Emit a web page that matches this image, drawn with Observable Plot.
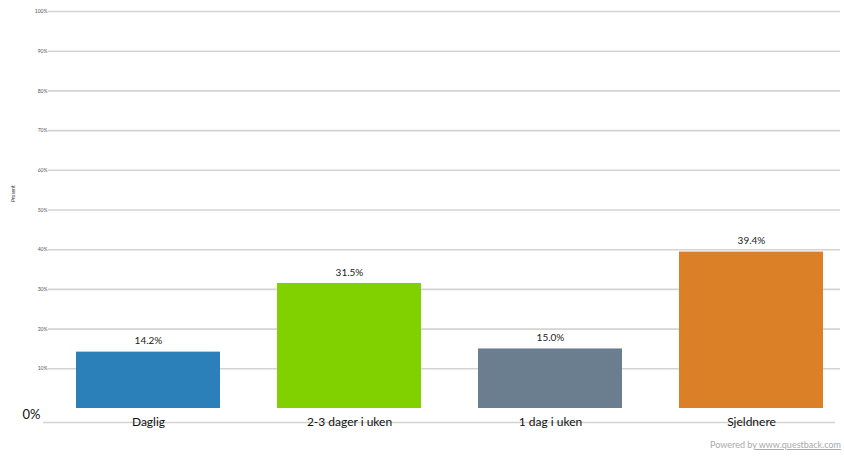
<!DOCTYPE html>
<html>
<head>
<meta charset="utf-8">
<script src="https://cdn.jsdelivr.net/npm/d3@7"></script>
<script src="https://cdn.jsdelivr.net/npm/@observablehq/plot@0.6"></script>
<style>
  html, body { margin: 0; padding: 0; background: #fff; overflow: hidden; }
  #wrap { position: relative; width: 844px; height: 458px; }
  #powered { position: absolute; right: 3px; top: 439px; white-space: nowrap;
    font-family: Lato, "Open Sans", sans-serif; font-size: 9px; color: #a9a9a9; }
  #powered u { text-decoration-color: #a9a9a9; }
</style>
</head>
<body>
<div id="wrap"><div id="chart"></div><div id="powered">Powered b<u>y www.questback.com</u></div></div>
<script>
const categories = ["Daglig", "2-3 dager i uken", "1 dag i uken", "Sjeldnere"];
const values = [14.2, 31.5, 15.0, 39.4];
const colors = ["#2c80b9", "#81d100", "#6a7e90", "#dc8027"];
const gridTicks = [10, 20, 30, 40, 50, 60, 70, 80, 90, 100];
const axisTitle = "Prosent";
const zeroLabel = "0%";

const data = categories.map((c, i) => ({category: c, value: values[i], color: colors[i]}));

const chart = Plot.plot({
  width: 844,
  height: 458,
  marginTop: 11,
  marginBottom: 50,
  marginLeft: 48,
  marginRight: 4,
  style: {fontFamily: "Lato, 'Open Sans', sans-serif", background: "#fff"},
  x: {domain: categories, range: [47, 852], paddingInner: 0.285, paddingOuter: 0.1425, axis: null},
  y: {domain: [0, 100], axis: null},
  color: {type: "identity"},
  marks: [
    Plot.ruleY(gridTicks, {stroke: "#d3d3d3", strokeWidth: 1.6}),
    Plot.text(gridTicks, {y: d => d, text: d => d + "%", frameAnchor: "left", textAnchor: "end", dx: -1, fontSize: 5, fill: "#555"}),
    Plot.ruleY([0], {stroke: "#d3d3d3", strokeWidth: 1.6, dy: 14, dx: -5}),
    Plot.barY(data, {x: "category", y: "value", fill: "color"}),
    Plot.text(data, {x: "category", y: "value", text: d => d.value.toFixed(1) + "%", dy: -11, fontSize: 10, fill: "#222"}),
    Plot.text(data, {x: "category", y: 0, text: "category", dy: 14, fontSize: 12, fill: "#111"}),
    Plot.text([zeroLabel], {y: 0, text: d => d, frameAnchor: "left", textAnchor: "end", dx: -8, dy: 6, fontSize: 13, fill: "#111"}),
    Plot.text([axisTitle], {y: 52, text: d => d, frameAnchor: "left", rotate: -90, dx: -35, fontSize: 5, fill: "#333"})
  ]
});
document.getElementById("chart").appendChild(chart);
</script>
</body>
</html>
